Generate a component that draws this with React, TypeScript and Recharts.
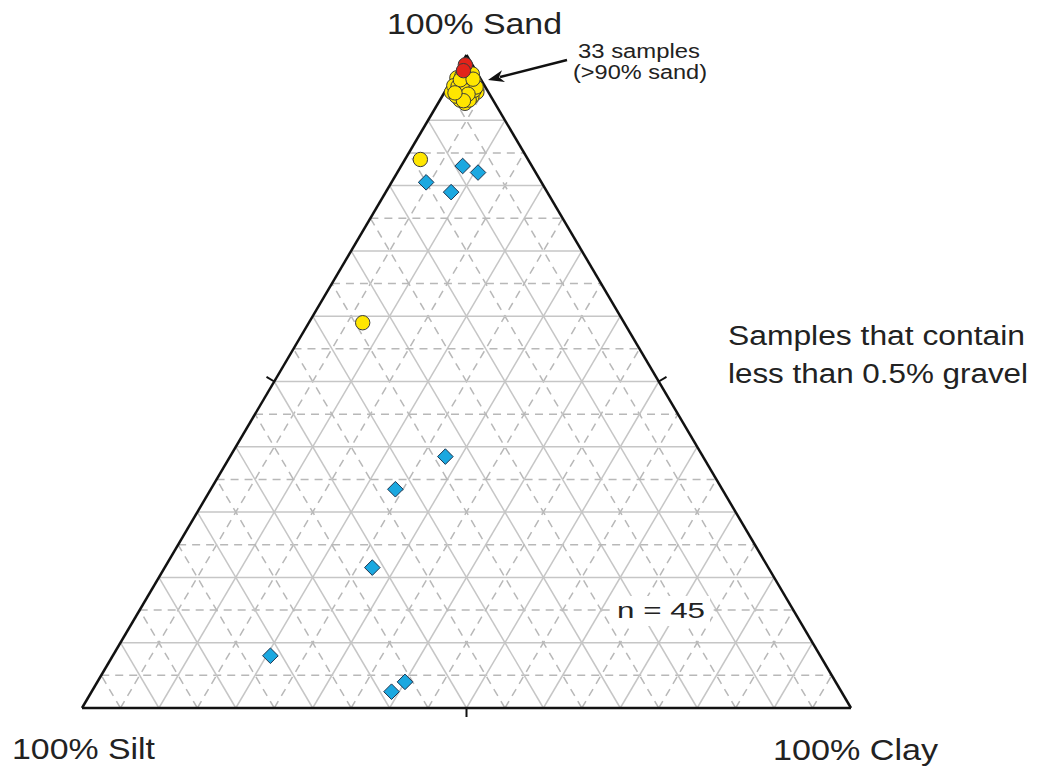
import { ScatterChart, Scatter, XAxis, YAxis, ReferenceLine, Customized } from 'recharts';

// [sand, silt, clay] in percent
const clusterSamples = [
  [94.3, 4.8, 0.9], [95.7, 3.1, 1.2], [95.3, 2.4, 2.3], [95.7, 1.1, 3.2],
  [94.3, 1.5, 4.2], [93.9, 3.1, 3.0], [92.6, 3.9, 3.5], [93.1, 4.3, 2.6],
  [97.1, 0.7, 2.2], [96.5, 3.0, 0.5], [96.3, 1.7, 2.0], [94.6, 3.2, 2.2],
  [95.0, 1.9, 3.1], [93.7, 4.5, 1.8], [93.6, 2.5, 3.9], [96.8, 2.2, 1.0],
  [93.1, 3.1, 3.8], [94.0, 3.7, 2.3], [95.9, 2.0, 2.1], [94.6, 1.7, 3.7],
  [95.3, 4.0, 0.7], [93.4, 3.6, 3.0], [95.6, 1.7, 2.7], [95.2, 3.5, 1.3],
  [94.5, 2.8, 2.7], [95.1, 1.2, 3.7], [96.2, 2.7, 1.1], [94.0, 2.8, 3.2],
  [93.0, 3.9, 3.1], [94.2, 4.4, 1.4], [96.3, 1.0, 2.7],
];
const otherCircleSamples = [[84, 14, 2], [59, 34, 7]];
const redSamples = [[98.5, 0.9, 0.6], [97.6, 1.6, 0.8]];
const diamondSamples = [
  [83, 9, 8], [82, 7.5, 10.5], [80.5, 15, 4.5], [79, 12.5, 8.5],
  [38.5, 33.5, 28], [33.5, 42.5, 24], [21.5, 51.5, 27], [8, 71.5, 20.5],
  [2.5, 58.5, 39], [4, 56, 40],
];
const gridSteps = Array.from({ length: 19 }, (_, i) => (i + 1) * 5);

// ternary -> cartesian (silt at left corner, clay at right corner, sand at top)
const toXY = ([sand, , clay]: number[]) => ({ x: (clay + sand / 2) / 100, y: sand / 100 });

const yellow = [...clusterSamples, ...otherCircleSamples].map(toXY);
const red = redSamples.map(toXY);
const blue = diamondSamples.map(toXY);

const W = 1038;
const H = 768;
const margin = { top: 55, right: 187, bottom: 60, left: 82 };
const plotW = W - margin.left - margin.right;
const plotH = H - margin.top - margin.bottom;

type Seg = [{ x: number; y: number }, { x: number; y: number }];

const gridLines: { seg: Seg; solid: boolean; key: string }[] = [];
gridSteps.forEach((p) => {
  const v = p / 100;
  const solid = p % 10 === 0;
  // constant sand
  gridLines.push({ key: `s${p}`, solid, seg: [{ x: v / 2, y: v }, { x: 1 - v / 2, y: v }] });
  // constant clay
  gridLines.push({ key: `c${p}`, solid, seg: [{ x: v, y: 0 }, { x: v + (1 - v) / 2, y: 1 - v }] });
  // constant silt
  gridLines.push({ key: `l${p}`, solid, seg: [{ x: 1 - v, y: 0 }, { x: (1 - v) / 2, y: 1 - v }] });
});

// 50% ticks on each side, pointing outward
const tickLen = 9;
const ticks: Seg[] = [
  [{ x: 0.25, y: 0.5 }, { x: 0.25 - (0.862 * tickLen) / plotW, y: 0.5 + (0.506 * tickLen) / plotH }],
  [{ x: 0.75, y: 0.5 }, { x: 0.75 + (0.861 * tickLen) / plotW, y: 0.5 + (0.509 * tickLen) / plotH }],
  [{ x: 0.5, y: 0 }, { x: 0.5, y: -tickLen / plotH }],
];

const outline: Seg[] = [
  [{ x: 0, y: 0 }, { x: 1, y: 0 }],
  [{ x: 0, y: 0 }, { x: 0.5, y: 1 }],
  [{ x: 1, y: 0 }, { x: 0.5, y: 1 }],
];

const font = '"Liberation Sans", Arial, sans-serif';

const Circle = (fill: string) => (props: any) => (
  <circle cx={props.cx} cy={props.cy} r={7.2} fill={fill} stroke="#3a3a3a" strokeWidth={1} />
);

const Diamond = (props: any) => {
  const { cx, cy } = props;
  const r = 7.8;
  return (
    <path
      d={`M${cx},${cy - r}L${cx + r},${cy}L${cx},${cy + r}L${cx - r},${cy}Z`}
      fill="#1ba8e0"
      stroke="#1d3550"
      strokeWidth={1}
    />
  );
};

const Annotations = () => (
  <g fontFamily={font} fill="#222">
    <text x={387} y={34} fontSize={29} textLength={175} lengthAdjust="spacingAndGlyphs">100% Sand</text>
    <text x={12} y={759} fontSize={29} textLength={143} lengthAdjust="spacingAndGlyphs">100% Silt</text>
    <text x={773} y={760} fontSize={29} textLength={165} lengthAdjust="spacingAndGlyphs">100% Clay</text>
    <text x={728} y={345} fontSize={27} textLength={297} lengthAdjust="spacingAndGlyphs">Samples that contain</text>
    <text x={728} y={383} fontSize={27} textLength={300} lengthAdjust="spacingAndGlyphs">less than 0.5% gravel</text>
    <text x={578} y={58} fontSize={20} textLength={122} lengthAdjust="spacingAndGlyphs">33 samples</text>
    <text x={573} y={79} fontSize={20} textLength={134} lengthAdjust="spacingAndGlyphs">(&gt;90% sand)</text>
    <line x1={567} y1={60} x2={500} y2={77} stroke="#111" strokeWidth={2.5} />
    <polygon points="488,80 505,82 499,77.3 502,70.3" fill="#111" />
  </g>
);

export default function App() {
  return (
    <div style={{ position: 'absolute', left: 0, top: 0, width: W, height: H, background: '#fff' }}>
      <ScatterChart width={W} height={H} margin={margin}>
        <XAxis type="number" dataKey="x" domain={[0, 1]} hide />
        <YAxis type="number" dataKey="y" domain={[0, 1]} hide />
        {gridLines.map((g) => (
          <ReferenceLine
            key={g.key}
            segment={g.seg}
            stroke={g.solid ? '#c6c6c6' : '#b8b8b8'}
            strokeWidth={1.5}
            strokeDasharray={g.solid ? undefined : '8 6'}
          />
        ))}
        {outline.map((s, i) => (
          <ReferenceLine key={`o${i}`} segment={s} stroke="#111" strokeWidth={2.5} />
        ))}
        {ticks.map((s, i) => (
          <ReferenceLine key={`t${i}`} segment={s} stroke="#111" strokeWidth={2} ifOverflow="visible" />
        ))}
        <Scatter data={yellow} shape={Circle('#ffe600')} isAnimationActive={false} />
        <Scatter data={red} shape={Circle('#e2231a')} isAnimationActive={false} />
        <Scatter data={blue} shape={Diamond} isAnimationActive={false} />
        <Customized component={<Annotations />} />
      </ScatterChart>
      {/* sample count sits on a white patch above the grid */}
      <svg width={110} height={34} style={{ position: 'absolute', left: 605, top: 594 }}>
        <rect x={5} y={2} width={100} height={30} fill="#fff" />
        <text x={12} y={24} fontFamily={font} fontSize={22} fill="#222" textLength={88} lengthAdjust="spacingAndGlyphs">
          n = 45
        </text>
      </svg>
    </div>
  );
}
